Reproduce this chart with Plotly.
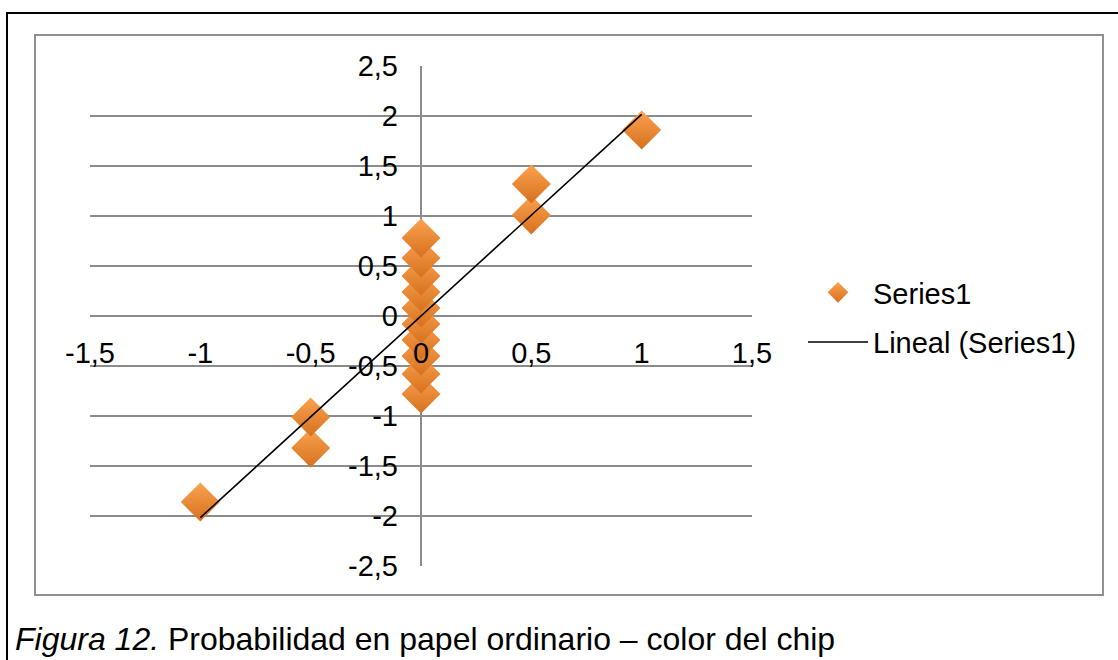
import numpy as np
import plotly.graph_objects as go

# Normal scores against the chip colour code
x_vals = [-1, -0.5, -0.5, 0, 0, 0, 0, 0, 0, 0, 0, 0, 0, 0.5, 0.5, 1]
y_vals = [-1.86, -1.32, -1.01, -0.78, -0.58, -0.40, -0.24, -0.08,
          0.08, 0.24, 0.40, 0.58, 0.78, 1.01, 1.32, 1.86]

x_ticks = [-1.5, -1, -0.5, 0, 0.5, 1, 1.5]
x_tick_labels = ["-1,5", "-1", "-0,5", "0", "0,5", "1", "1,5"]
y_ticks = [-2.5, -2, -1.5, -1, -0.5, 0, 0.5, 1, 1.5, 2, 2.5]
y_tick_labels = ["-2,5", "-2", "-1,5", "-1", "-0,5", "0", "0,5", "1", "1,5", "2", "2,5"]

caption_italic = "Figura 12."
caption_text = "Probabilidad en papel ordinario – color del chip"

W, H = 1118, 660
FONT = "Liberation Sans, Arial, sans-serif"
GRID = "#8c8c8c"
TICK_SIZE = 29


def fx(p):
    return p / W


def fy(p):
    return 1 - p / H


# Least-squares trend line over the data range
slope, intercept = np.polyfit(x_vals, y_vals, 1)
trend_x = [min(x_vals), max(x_vals)]
trend_y = [slope * v + intercept for v in trend_x]

fig = go.Figure()
fig.add_trace(go.Scatter(
    x=x_vals, y=y_vals, mode="markers", name="Series1",
    legendgroup="a",
    marker=dict(symbol="diamond", size=30, color="#FBA24F",
                gradient=dict(type="vertical", color="#D6711E"),
                line=dict(width=0)),
))
fig.add_trace(go.Scatter(
    x=trend_x, y=trend_y, mode="lines", name="Lineal (Series1)",
    legendgroup="b",
    line=dict(color="black", width=1.6),
))

y_dom = [fy(566), fy(66)]
x_dom = [fx(90), fx(752)]

fig.update_layout(
    width=W, height=H,
    margin=dict(l=0, r=0, t=0, b=0, pad=0, autoexpand=False),
    paper_bgcolor="white", plot_bgcolor="white",
    font=dict(family=FONT, size=TICK_SIZE, color="black"),
    showlegend=True,
    legend=dict(x=fx(803), y=fy(267), xanchor="left", yanchor="top",
                bgcolor="rgba(0,0,0,0)", borderwidth=0,
                tracegroupgap=9, itemwidth=60,
                font=dict(family=FONT, size=TICK_SIZE, color="black")),
    xaxis=dict(
        domain=x_dom, range=[-1.5, 1.5], anchor="free",
        position=(y_dom[0] + y_dom[1]) / 2,
        tickvals=x_ticks, ticktext=x_tick_labels,
        showgrid=False, zeroline=True, zerolinecolor=GRID, zerolinewidth=1.5,
        showline=False, ticks="", ticklabelstandoff=17,
        layer="above traces", automargin=False,
    ),
    yaxis=dict(
        domain=y_dom, range=[-2.5, 2.5], anchor="free",
        position=(x_dom[0] + x_dom[1]) / 2,
        tickvals=y_ticks, ticktext=y_tick_labels,
        showgrid=True, gridcolor=GRID, gridwidth=1.5,
        zeroline=False, showline=False, ticks="", ticklabelstandoff=23,
        automargin=False,
    ),
    shapes=[
        # outer page frame (top and left edges visible)
        dict(type="rect", xref="paper", yref="paper",
             x0=fx(7), x1=fx(1130), y0=fy(680), y1=fy(13),
             line=dict(color="black", width=2)),
        # chart area border
        dict(type="rect", xref="paper", yref="paper",
             x0=fx(35), x1=fx(1103), y0=fy(595), y1=fy(35),
             line=dict(color="#909090", width=2)),
    ],
    annotations=[
        dict(text=f"<i>{caption_italic}</i> {caption_text}",
             xref="paper", yref="paper", x=fx(13), y=fy(619),
             xanchor="left", yanchor="top", showarrow=False,
             font=dict(family=FONT, size=32, color="black")),
    ],
)

fig.write_html("out.html")
